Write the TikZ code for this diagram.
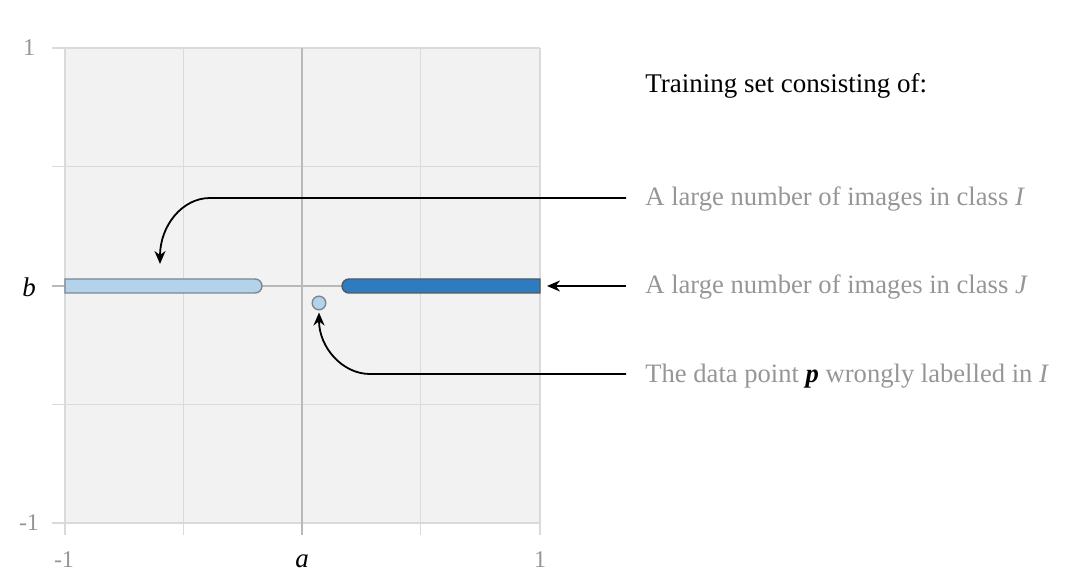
\documentclass[tikz,border=0pt]{standalone}
\usepackage{fontspec}
\setmainfont{Liberation Serif}
\usetikzlibrary{arrows.meta}
\definecolor{bggray}{RGB}{242,242,242}
\definecolor{gridgray}{RGB}{218,218,218}
\definecolor{axisgray}{RGB}{185,185,185}
\definecolor{txtgray}{RGB}{150,150,150}
\definecolor{lightblue}{RGB}{179,211,234}
\definecolor{lightedge}{RGB}{125,135,145}
\definecolor{darkblue}{RGB}{46,123,191}
\definecolor{darkedge}{RGB}{80,90,100}
\tikzset{
  gridline/.style={draw=gridgray, line width=0.6pt},
  axisline/.style={draw=axisgray, line width=0.6pt},
  ticklabel/.style={text=txtgray, font=\fontsize{12pt}{14pt}\selectfont, inner sep=0pt},
  axislabel/.style={text=black, font=\fontsize{13.5pt}{16pt}\selectfont\itshape, inner sep=0pt},
  legendtext/.style={text=txtgray, font=\fontsize{13.3pt}{16pt}\selectfont, anchor=base west, inner sep=0pt},
  titletext/.style={text=black, font=\fontsize{13.5pt}{16pt}\selectfont, anchor=base west, inner sep=0pt},
  pointer/.style={draw=black, line width=0.9pt, -{Stealth[length=6.5pt,width=5.5pt]}},
}
\begin{document}
\begin{tikzpicture}[x=0.5pt, y=-0.5pt]
\useasboundingbox (0,0) rectangle (1080,587);
% background of plot
\fill[bggray] (65,48) rectangle (540,523);
% grid lines (with ticks extending beyond plot)
\foreach \xx in {65,183.75,420.25,540} \draw[gridline] (\xx,48) -- (\xx,535);
\foreach \yy in {48,166.75,404.25,523} \draw[gridline] (52,\yy) -- (540,\yy);
\draw[axisline] (302,48) -- (302,535);
\draw[axisline] (52,286) -- (540,286);
% tick labels
\node[ticklabel] (y1) at (29,48) {1};
\node[ticklabel] (ym1) at (29,523) {-1};
\node[axislabel] (lb) at (29,287) {b};
\node[ticklabel, anchor=base] (xm1) at (64,567) {-1};
\node[axislabel, anchor=base] (la) at (302,567) {a};
\node[ticklabel, anchor=base] (x1) at (540,567) {1};
% bars
\draw[fill=lightblue, draw=lightedge, line width=0.7pt]
  (65,279) -- (255,279) arc[start angle=90, end angle=-90, radius=3.5pt] -- (65,293) -- cycle;
\draw[fill=darkblue, draw=darkedge, line width=0.7pt]
  (540,279) -- (349,279) arc[start angle=90, end angle=270, radius=3.5pt] -- (540,293) -- cycle;
% data point p
\node[circle, draw=lightedge, fill=lightblue, line width=0.7pt, minimum size=6.8pt, inner sep=0pt] (p) at (319,303) {};
% texts
\node[titletext] (title) at (645,93) {Training set consisting of:};
\node[legendtext] (tI) at (645,206) {A large number of images in class \textit{I}};
\node[legendtext] (tJ) at (645,294) {A large number of images in class \textit{J}};
\node[legendtext] (tp) at (645,382) {The data point \textcolor{black}{\textbf{\textit{p}}} wrongly labelled in \textit{I}};
% connector anchors
\coordinate (sI) at (626,198);
\coordinate (sJ) at (626,286);
\coordinate (sp) at (626,374);
\coordinate (barI) at (160,264);
\coordinate (barJ) at (547,286);
% connectors
\draw[pointer] (sI) -- (210,198) .. controls (182,198) and (160,226) .. (barI);
\draw[pointer] (sJ) -- (barJ);
\draw[pointer] (sp) -- (370,374) .. controls (342,374) and (319,347) .. ([yshift=-1pt]p.south);
\end{tikzpicture}
\end{document}
